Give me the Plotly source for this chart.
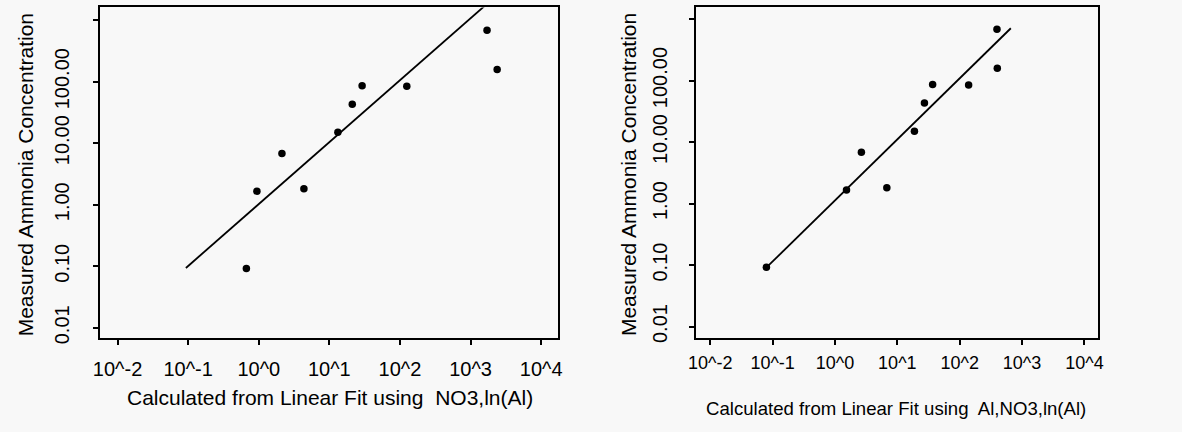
import plotly.graph_objects as go

# ---- data ----
measured = [0.092, 1.66, 6.8, 1.81, 15.0, 43.0, 86.0, 84.5, 682, 158]
calc_no3_lnal = [0.668, 0.942, 2.13, 4.36, 13.2, 21.1, 29.1, 125, 1710, 2380]
calc_al_no3_lnal = [0.0794, 1.53, 2.65, 6.78, 18.8, 27.2, 36.8, 139, 396, 401]

fit_left_x = [0.0929, 3000]
fit_left_y = [0.0938, 3240]
fit_right_x = [0.0746, 661]
fit_right_y = [0.0855, 708]

x_tickvals = [0.01, 0.1, 1, 10, 100, 1000, 10000]
x_ticktext = ["10^-2", "10^-1", "10^0", "10^1", "10^2", "10^3", "10^4"]
y_tickvals = [0.01, 0.1, 1, 10, 100, 1000]
y_ticktext = ["0.01", "0.10", "1.00", "10.00", "100.00", ""]

y_title = "Measured Ammonia Concentration"
x_title_left = "Calculated from Linear Fit using  NO3,ln(Al)"
x_title_right = "Calculated from Linear Fit using  Al,NO3,ln(Al)"

W, H = 1182, 432
BG = "#f8f8f8"
FONT = "Liberation Sans, Arial, sans-serif"

fig = go.Figure()

fig.add_trace(go.Scatter(x=fit_left_x, y=fit_left_y, mode="lines",
                         line=dict(color="black", width=1.8),
                         xaxis="x", yaxis="y", showlegend=False))
fig.add_trace(go.Scatter(x=calc_no3_lnal, y=measured, mode="markers",
                         marker=dict(color="black", size=7.5),
                         xaxis="x", yaxis="y", showlegend=False))
fig.add_trace(go.Scatter(x=fit_right_x, y=fit_right_y, mode="lines",
                         line=dict(color="black", width=1.8),
                         xaxis="x2", yaxis="y2", showlegend=False))
fig.add_trace(go.Scatter(x=calc_al_no3_lnal, y=measured, mode="markers",
                         marker=dict(color="black", size=7.5),
                         xaxis="x2", yaxis="y2", showlegend=False))


def px_x(p):
    return p / W


def px_y(p):
    return 1 - p / H


common_axis = dict(type="log", showgrid=False, zeroline=False, showline=True,
                   mirror=True, linecolor="black", linewidth=2,
                   ticks="outside", ticklen=5, tickwidth=1.5, tickcolor="black")

xfont_left = dict(family=FONT, size=20, color="black")
xfont_right = dict(family=FONT, size=18, color="black")
yfont = dict(family=FONT, size=20, color="black")

fig.update_layout(
    width=W, height=H,
    margin=dict(l=0, r=0, t=0, b=0),
    paper_bgcolor=BG, plot_bgcolor=BG,
    showlegend=False,
    xaxis=dict(common_axis, domain=[px_x(93), px_x(557)], range=[-2.25, 4.244],
               tickvals=x_tickvals, ticktext=x_ticktext, tickfont=xfont_left,
               ticklabelstandoff=7, anchor="y"),
    yaxis=dict(common_axis, domain=[px_y(343), px_y(7.5)], range=[-2.17, 3.207],
               tickvals=y_tickvals, ticktext=y_ticktext, tickfont=yfont,
               tickangle=-90, ticklabelstandoff=16, anchor="x"),
    xaxis2=dict(common_axis, domain=[px_x(696), px_x(1103)], range=[-2.233, 4.217],
                tickvals=x_tickvals, ticktext=x_ticktext, tickfont=xfont_right,
                ticklabelstandoff=2, anchor="y2"),
    yaxis2=dict(common_axis, domain=[px_y(343), px_y(6.7)], range=[-2.19, 3.202],
                tickvals=y_tickvals, ticktext=y_ticktext, tickfont=yfont,
                tickangle=-90, ticklabelstandoff=14, anchor="x2"),
)

fig.add_annotation(text=x_title_left, xref="paper", yref="paper",
                   x=px_x(325.5), y=px_y(403), showarrow=False,
                   xanchor="center", yanchor="middle",
                   font=dict(family=FONT, size=21, color="black"))
fig.add_annotation(text=x_title_right, xref="paper", yref="paper",
                   x=px_x(899), y=px_y(414), showarrow=False,
                   xanchor="center", yanchor="middle",
                   font=dict(family=FONT, size=18.6, color="black"))
fig.add_annotation(text=y_title, xref="paper", yref="paper",
                   x=px_x(18), y=px_y(177), showarrow=False, textangle=-90,
                   xanchor="center", yanchor="middle",
                   font=dict(family=FONT, size=21, color="black"))
fig.add_annotation(text=y_title, xref="paper", yref="paper",
                   x=px_x(628), y=px_y(177), showarrow=False, textangle=-90,
                   xanchor="center", yanchor="middle",
                   font=dict(family=FONT, size=21, color="black"))

fig.write_html("out.html")
